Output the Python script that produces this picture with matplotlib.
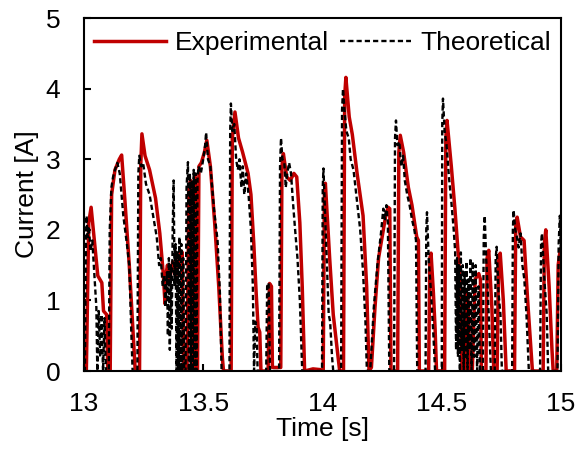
import matplotlib
matplotlib.use("Agg")
import matplotlib.pyplot as plt

# Experimental current (red)
t_exp = [13.000, 13.010, 13.020, 13.030, 13.042, 13.058, 13.075, 13.082, 13.095, 13.100,
         13.110, 13.116, 13.130, 13.148, 13.158, 13.172, 13.190, 13.208, 13.215, 13.233,
         13.238, 13.243, 13.256, 13.275, 13.300, 13.318, 13.332, 13.340, 13.343, 13.350,
         13.360, 13.372, 13.385, 13.395, 13.405, 13.412, 13.418, 13.432, 13.440, 13.447,
         13.452, 13.458, 13.466, 13.472, 13.476, 13.482, 13.492, 13.505, 13.515, 13.530,
         13.548, 13.565, 13.580, 13.585, 13.617, 13.622, 13.633, 13.648, 13.665, 13.688,
         13.700, 13.712, 13.722, 13.730, 13.737, 13.742, 13.772, 13.778, 13.786, 13.790,
         13.825, 13.830, 13.836, 13.850, 13.865, 13.880, 13.892, 13.905, 13.915, 13.925,
         13.960, 13.990, 14.003, 14.008, 14.012, 14.030, 14.045, 14.062, 14.072, 14.088,
         14.093, 14.098, 14.112, 14.125, 14.145, 14.170, 14.185, 14.195, 14.205, 14.220,
         14.235, 14.250, 14.265, 14.275, 14.282, 14.287, 14.315, 14.320, 14.326, 14.340,
         14.360, 14.375, 14.395, 14.402, 14.406, 14.445, 14.450, 14.455, 14.465, 14.472,
         14.478, 14.512, 14.517, 14.522, 14.540, 14.555, 14.568, 14.575, 14.578, 14.585,
         14.600, 14.606, 14.612, 14.616, 14.628, 14.640, 14.655, 14.662, 14.666, 14.685,
         14.690, 14.697, 14.710, 14.718, 14.732, 14.738, 14.745, 14.758, 14.770, 14.805,
         14.810, 14.816, 14.830, 14.845, 14.860, 14.870, 14.880, 14.925, 14.930, 14.936,
         14.950, 14.962, 14.967, 14.982, 14.988, 14.996, 15.000]
i_exp = [0.0, 0.0, 2.1, 2.32, 1.9, 1.35, 1.25, 0.85, 0.8, 0.0,
         0.0, 2.5, 2.85, 3.0, 3.06, 2.4, 1.5, 0.4, 0.0, 0.0,
         2.9, 3.36, 3.05, 2.85, 2.45, 1.95, 1.4, 0.95, 1.35, 1.5,
         1.3, 1.55, 1.35, 1.5, 1.7, 1.68, 0.0, 0.0, 2.6, 2.7,
         0.0, 0.0, 2.75, 0.0, 0.0, 2.9, 2.95, 3.1, 3.27, 2.9,
         2.1, 1.2, 0.2, 0.0, 0.0, 3.3, 3.67, 3.3, 3.1, 2.8,
         2.5, 1.8, 1.1, 0.62, 0.55, 0.0, 0.0, 1.24, 1.2, 0.05,
         0.05, 2.9, 3.08, 2.75, 2.7, 2.8, 2.75, 2.1, 1.2, 0.0,
         0.03, 0.02, 0.0, 2.5, 2.66, 1.6, 0.8, 0.3, 0.0, 0.0,
         3.9, 4.16, 3.6, 3.35, 2.8, 2.2, 1.2, 0.0, 0.05, 0.9,
         1.6, 1.9, 2.2, 2.32, 2.3, 0.0, 0.0, 3.1, 3.34, 3.1,
         2.6, 2.35, 1.9, 1.85, 0.0, 0.0, 1.6, 1.67, 1.1, 0.6,
         0.0, 0.0, 3.3, 3.55, 2.9, 2.3, 1.7, 1.38, 1.2, 0.0,
         0.0, 1.1, 0.9, 0.0, 0.0, 1.3, 1.38, 1.3, 0.0, 0.0,
         1.6, 1.71, 0.9, 0.0, 0.0, 1.55, 1.67, 1.0, 0.0, 0.0,
         2.05, 2.18, 1.9, 1.85, 1.0, 0.5, 0.0, 0.0, 1.8, 2.0,
         1.2, 0.3, 0.0, 0.0, 1.5, 1.71, 1.71]

# Theoretical current (black dashed)
t_th = [13.000, 13.004, 13.008, 13.011, 13.015, 13.020, 13.028, 13.035, 13.045, 13.052,
        13.056, 13.062, 13.068, 13.074, 13.080, 13.086, 13.092, 13.104, 13.108, 13.115,
        13.122, 13.130, 13.140, 13.150, 13.165, 13.180, 13.190, 13.198, 13.204, 13.224,
        13.228, 13.232, 13.240, 13.248, 13.260, 13.275, 13.290, 13.305, 13.315, 13.322,
        13.330, 13.336, 13.342, 13.348, 13.352, 13.356, 13.360, 13.364, 13.368, 13.372,
        13.376, 13.380, 13.384, 13.388, 13.392, 13.396, 13.400, 13.404, 13.408, 13.412,
        13.416, 13.420, 13.426, 13.430, 13.436, 13.440, 13.444, 13.448, 13.452, 13.456,
        13.460, 13.464, 13.468, 13.472, 13.476, 13.480, 13.490, 13.500, 13.508, 13.512,
        13.520, 13.530, 13.545, 13.560, 13.570, 13.577, 13.610, 13.613, 13.616, 13.622,
        13.630, 13.638, 13.645, 13.652, 13.660, 13.666, 13.672, 13.680, 13.690, 13.700,
        13.708, 13.713, 13.718, 13.724, 13.728, 13.764, 13.768, 13.774, 13.780, 13.818,
        13.822, 13.826, 13.832, 13.840, 13.846, 13.852, 13.860, 13.868, 13.876, 13.884,
        13.895, 13.905, 13.915, 13.998, 14.001, 14.004, 14.010, 14.018, 14.026, 14.032,
        14.040, 14.045, 14.078, 14.082, 14.086, 14.092, 14.100, 14.110, 14.118, 14.130,
        14.145, 14.158, 14.170, 14.180, 14.186, 14.200, 14.215, 14.230, 14.245, 14.255,
        14.262, 14.268, 14.274, 14.280, 14.300, 14.304, 14.308, 14.314, 14.322, 14.330,
        14.338, 14.345, 14.355, 14.365, 14.375, 14.385, 14.392, 14.397, 14.432, 14.435,
        14.438, 14.445, 14.455, 14.465, 14.472, 14.500, 14.502, 14.505, 14.512, 14.520,
        14.530, 14.540, 14.550, 14.556, 14.560, 14.564, 14.568, 14.572, 14.576, 14.580,
        14.584, 14.588, 14.592, 14.596, 14.600, 14.604, 14.608, 14.612, 14.616, 14.620,
        14.625, 14.630, 14.636, 14.642, 14.648, 14.654, 14.660, 14.672, 14.676, 14.680,
        14.686, 14.692, 14.700, 14.706, 14.722, 14.726, 14.730, 14.738, 14.746, 14.752,
        14.795, 14.798, 14.801, 14.808, 14.815, 14.822, 14.830, 14.838, 14.846, 14.855,
        14.865, 14.912, 14.916, 14.920, 14.930, 14.940, 14.946, 14.985, 14.990, 14.995,
        15.000]
i_th = [0.0, 0.0, 1.8, 2.2, 1.9, 2.05, 1.7, 1.85, 1.3, 0.9,
        0.0, 0.85, 0.2, 0.8, 0.0, 0.75, 0.0, 0.0, 2.0, 2.6,
        2.75, 2.85, 2.95, 2.8, 2.2, 1.8, 1.5, 0.6, 0.0, 0.0,
        2.8, 3.05, 2.9, 2.95, 2.65, 2.5, 2.2, 1.9, 1.5, 1.6,
        1.2, 1.35, 0.9, 1.4, 0.5, 1.6, 0.3, 1.5, 0.6, 2.0,
        2.7, 1.2, 1.8, 0.0, 1.7, 0.0, 1.9, 0.0, 1.8, 0.0,
        1.6, 0.0, 0.0, 2.6, 2.96, 0.0, 2.8, 0.0, 2.7, 0.0,
        2.85, 0.0, 2.8, 0.0, 2.7, 2.9, 2.8, 3.0, 3.2, 3.38,
        3.0, 2.9, 2.3, 1.85, 1.1, 0.0, 0.0, 3.4, 3.79, 3.4,
        3.5, 3.0, 2.85, 3.0, 2.6, 2.9, 2.5, 2.8, 2.5, 2.0,
        1.2, 0.0, 0.7, 0.6, 0.0, 0.0, 1.2, 1.25, 0.0, 0.0,
        2.9, 3.3, 3.0, 2.95, 2.6, 2.8, 2.95, 2.8, 2.4, 2.05,
        1.6, 1.0, 0.0, 0.0, 2.6, 2.87, 2.3, 1.5, 0.8, 0.7,
        0.2, 0.0, 0.0, 3.7, 4.0, 3.7, 3.4, 3.3, 3.0, 2.85,
        2.4, 2.0, 1.4, 0.7, 0.0, 0.0, 0.9, 1.5, 1.95, 2.3,
        2.15, 2.35, 2.1, 0.0, 0.0, 3.3, 3.55, 3.2, 3.25, 2.9,
        3.05, 2.7, 2.5, 2.35, 2.15, 2.0, 1.85, 0.0, 0.0, 2.0,
        2.25, 1.6, 1.1, 0.5, 0.0, 0.0, 3.5, 3.86, 3.4, 3.2,
        2.75, 2.4, 2.0, 1.7, 0.3, 1.6, 0.2, 1.5, 0.0, 1.68,
        0.3, 1.5, 0.0, 1.4, 0.2, 1.55, 0.0, 1.3, 0.3, 1.6,
        0.0, 1.55, 0.2, 1.5, 0.0, 1.2, 0.0, 0.0, 1.9, 2.2,
        1.6, 1.2, 0.5, 0.0, 0.0, 1.6, 1.76, 1.1, 0.8, 0.0,
        0.0, 2.0, 2.28, 2.0, 1.9, 1.75, 1.95, 1.5, 1.3, 0.8,
        0.0, 0.0, 1.8, 1.95, 1.3, 0.8, 0.0, 0.0, 1.8, 2.2,
        1.6]

x_ticks = [13, 13.5, 14, 14.5, 15]
x_ticklabels = ["13", "13.5", "14", "14.5", "15"]
y_ticks = [0, 1, 2, 3, 4, 5]

plt.rcParams['font.family'] = ['Liberation Sans', 'DejaVu Sans']
fs = 19

fig = plt.figure(figsize=(5.79, 4.53), dpi=100)
ax = fig.add_axes([0.145, 0.181, 0.824, 0.779])

ax.plot(t_exp, i_exp, color='#C00000', lw=2.5, label='Experimental', zorder=2)
ax.plot(t_th, i_th, color='black', lw=1.7, ls=(0, (2.2, 1.3)), label='Theoretical', zorder=3)

ax.set_xlim(13, 15)
ax.set_ylim(0, 5)
ax.set_xticks(x_ticks)
ax.set_xticklabels(x_ticklabels)
ax.set_yticks(y_ticks)

ax.tick_params(axis='both', direction='in', labelsize=fs, length=5, width=1.5)
ax.tick_params(axis='y', pad=17)
ax.tick_params(axis='x', pad=15)
for s in ax.spines.values():
    s.set_linewidth(1.5)

ax.set_xlabel('Time [s]', fontsize=fs, labelpad=1)
ax.set_ylabel('Current [A]', fontsize=fs, labelpad=5)

ax.legend(loc='upper center', ncol=2, frameon=False, fontsize=fs,
          handlelength=2.7, handletextpad=0.35, columnspacing=0.4,
          borderaxespad=0.1, bbox_to_anchor=(0.5, 1.0))

fig.savefig('out.png', dpi=100)
